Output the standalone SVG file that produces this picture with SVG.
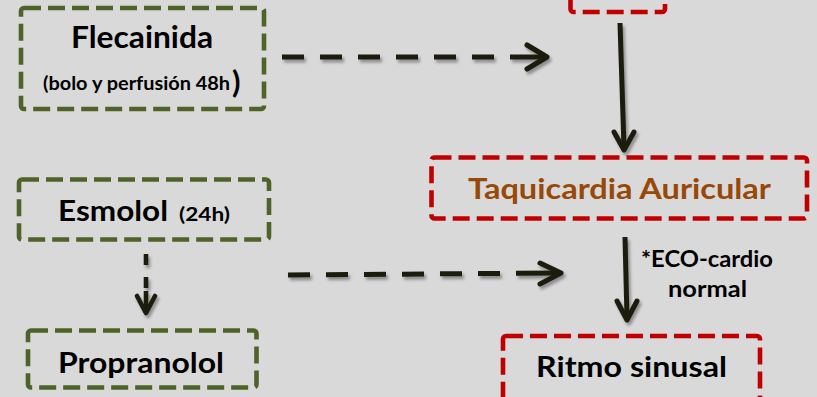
<svg xmlns="http://www.w3.org/2000/svg" width="817" height="397" viewBox="0 0 817 397">
  <defs>
    <filter id="shadow" x="-20%" y="-20%" width="140%" height="160%">
      <feDropShadow dx="2" dy="3" stdDeviation="1.6" flood-color="#000" flood-opacity="0.35"/>
    </filter>
    <style>
      .box { fill: none; stroke-width: 4.6; stroke-dasharray: 17 7; }
      .green { stroke: #4f6228; }
      .red { stroke: #c00000; }
      .lbl { font-family: Lato, "Open Sans", "Liberation Sans", sans-serif; font-weight: bold; fill: #000; }
      .conn { fill: none; stroke: #1e1c11; stroke-width: 5; }
      .dash { stroke-dasharray: 22 16; }
      .head { stroke-linecap: round; stroke-linejoin: round; }
    </style>
  </defs>

  <rect width="817" height="397" fill="#d9d9d9"/>

  <!-- upper red box, partly above the frame -->
  <g id="node-top">
    <rect class="box red" x="570.5" y="-50" width="94.5" height="62" rx="3"/>
  </g>

  <g id="node-flecainida">
    <rect class="box green" x="21" y="8" width="243" height="101" rx="3"/>
    <text class="lbl" x="71" y="48" font-size="30" textLength="142" lengthAdjust="spacingAndGlyphs">Flecainida</text>
    <text class="lbl" x="43" y="90" font-size="18" textLength="187" lengthAdjust="spacingAndGlyphs">(bolo y perfusión 48h</text>
    <text class="lbl" x="232" y="93" font-size="31">)</text>
  </g>

  <g id="node-esmolol">
    <rect class="box green" x="19" y="179.5" width="250" height="60" rx="3"/>
    <text class="lbl" x="58" y="221" font-size="28" textLength="110" lengthAdjust="spacingAndGlyphs">Esmolol</text>
    <text class="lbl" x="179" y="221" font-size="18" textLength="51" lengthAdjust="spacingAndGlyphs">(24h)</text>
  </g>

  <g id="node-propranolol">
    <rect class="box green" x="28" y="330.5" width="228.5" height="57" rx="3"/>
    <text class="lbl" x="58" y="373" font-size="29" textLength="166" lengthAdjust="spacingAndGlyphs">Propranolol</text>
  </g>

  <g id="node-taquicardia">
    <rect class="box red" x="431.5" y="157.5" width="375.5" height="61" rx="3"/>
    <text class="lbl" x="468" y="199" font-size="29" style="fill:#984807" textLength="303" lengthAdjust="spacingAndGlyphs">Taquicardia Auricular</text>
  </g>

  <g id="node-ritmo">
    <rect class="box red" x="503" y="336" width="257" height="90" rx="3"/>
    <text class="lbl" x="536" y="377" font-size="29" textLength="191" lengthAdjust="spacingAndGlyphs">Ritmo sinusal</text>
  </g>

  <g id="label-eco">
    <text class="lbl" x="641" y="267" font-size="22" textLength="132" lengthAdjust="spacingAndGlyphs">*ECO-cardio</text>
    <text class="lbl" x="668" y="297" font-size="22" textLength="79" lengthAdjust="spacingAndGlyphs">normal</text>
  </g>

  <g id="connectors" filter="url(#shadow)">
    <!-- Flecainida -> right -->
    <path class="conn dash" d="M282 57 H510"/>
    <path class="conn" d="M510 57 H545"/>
    <path class="conn head" d="M527 45 L547 57 L527 69"/>

    <!-- Esmolol/Propranolol -> right -->
    <path class="conn dash" d="M288 275 L516 273.3"/>
    <path class="conn" d="M516 273.3 L559 273"/>
    <path class="conn head" d="M540 263 L561 273 L540 284"/>

    <!-- top box -> Taquicardia Auricular -->
    <path class="conn" d="M620 23 L624 148"/>
    <path class="conn head" d="M614 132 L624 150 L634 132"/>

    <!-- Taquicardia Auricular -> Ritmo sinusal -->
    <path class="conn" d="M625 237 L627 318"/>
    <path class="conn head" d="M617 301 L627 320 L637 301"/>

    <!-- Esmolol -> Propranolol -->
    <path class="conn" stroke-dasharray="11 12" d="M146 254 V289" style="stroke-width:4.6"/>
    <path class="conn" d="M146 291 V311" style="stroke-width:4.6"/>
    <path class="conn head" d="M137 296 L146 313 L155 296" style="stroke-width:4.6"/>
  </g>
</svg>
